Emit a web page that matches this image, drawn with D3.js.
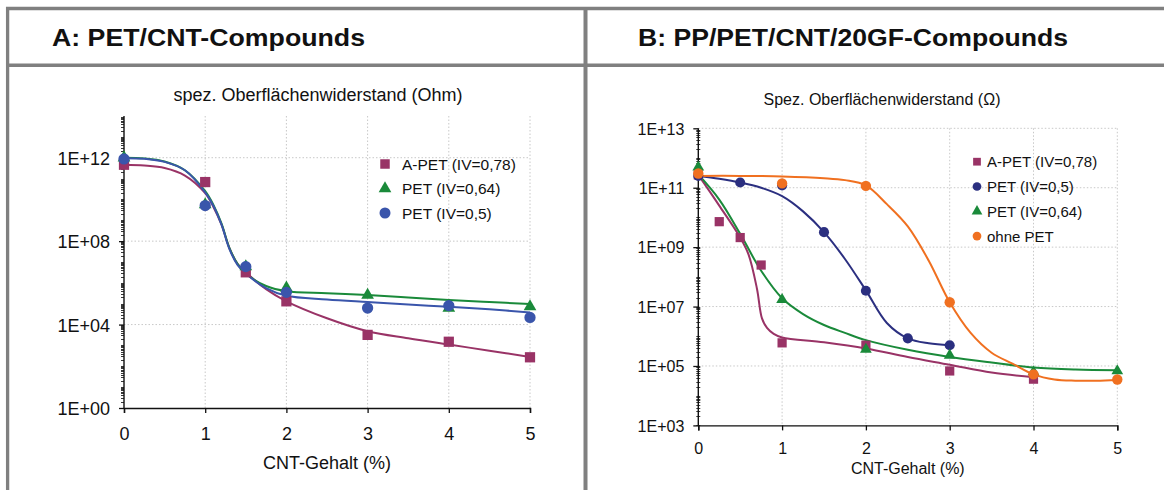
<!DOCTYPE html>
<html>
<head>
<meta charset="utf-8">
<script src="https://cdn.jsdelivr.net/npm/d3@7"></script>
<style>
  body { margin: 0; background: #fff; }
  svg { display: block; }
  text { font-family: "Liberation Sans", Arial, sans-serif; fill: #111; }
</style>
</head>
<body>
<svg id="chart" width="1164" height="490"></svg>
<script>
// ---- shared
var xTicks = [0, 1, 2, 3, 4, 5];

// ---- panel A: PET/CNT-Compounds
var aYTicks = [1, 1e4, 1e8, 1e12];
var aYLabels = ["1E+00", "1E+04", "1E+08", "1E+12"];
var aX = [0, 1, 1.5, 2, 3, 4, 5];
var aApet = [4.6e11, 6.8e10, 3.2e6, 1.3e5, 3.2e3, 1.5e3, 2.7e2];
var aPet064 = [1.0e12, 5.6e9, 6.0e6, 5.8e5, 2.6e5, 6.2e4, 7.2e4];
var aPet05 = [8.7e11, 5.1e9, 6.0e6, 3.5e5, 6.2e4, 8.1e4, 2.2e4];
// trend lines
var aFitX = [0, 0.25, 0.5, 0.75, 1, 1.1, 1.2, 1.3, 1.4, 1.5, 1.75, 2, 2.5, 3, 3.5, 4, 4.5, 5];
var aFitApet = [4.6e11, 4.2e11, 3.2e11, 1.4e11, 2.0e10, 4.5e9, 6.3e8, 4.5e7, 7.9e6, 3.2e6, 5.0e5, 1.3e5, 2.0e4, 4.8e3, 2.2e3, 1.1e3, 5.6e2, 2.8e2];
var aFitPet064 = [1.0e12, 9.3e11, 6.6e11, 2.5e11, 2.5e10, 5.6e9, 7.1e8, 4.5e7, 7.9e6, 2.8e6, 7.1e5, 4.0e5, 3.2e5, 2.6e5, 2.0e5, 1.5e5, 1.2e5, 9.8e4];
var aFitPet05 = [9.5e11, 8.9e11, 6.3e11, 2.5e11, 2.2e10, 5.0e9, 6.3e8, 4.0e7, 7.1e6, 2.8e6, 5.6e5, 2.4e5, 1.6e5, 1.2e5, 9.1e4, 7.2e4, 5.4e4, 3.8e4];

// ---- panel B: PP/PET/CNT/20GF-Compounds
var bYTicks = [1e3, 1e5, 1e7, 1e9, 1e11, 1e13];
var bYLabels = ["1E+03", "1E+05", "1E+07", "1E+09", "1E+11", "1E+13"];
var bApetX = [0, 0.25, 0.5, 0.75, 1, 2, 3, 4];
var bApet = [2.7e11, 7.2e9, 2.1e9, 2.5e8, 6.0e5, 5.0e5, 6.8e4, 3.6e4];
var bPet05X = [0, 0.5, 1, 1.5, 2, 2.5, 3];
var bPet05 = [2.5e11, 1.5e11, 1.2e11, 3.2e9, 3.4e7, 8.5e5, 5.0e5];
var bPet064X = [0, 1, 2, 3, 4, 5];
var bPet064 = [4.9e11, 1.7e7, 3.6e5, 2.3e5, 6.3e4, 6.8e4];
var bOhneX = [0, 1, 2, 3, 4, 5];
var bOhne = [3.0e11, 1.4e11, 1.15e11, 1.4e7, 5.2e4, 3.5e4];
// trend lines
var bFitApetX = [0, 0.25, 0.5, 0.6, 0.7, 0.76, 0.82, 0.9, 1, 1.5, 2, 2.5, 3, 3.5, 4];
var bFitApet = [2.7e11, 2.5e10, 2.1e9, 5.6e8, 4.0e7, 4.0e6, 1.9e6, 1.2e6, 9.1e5, 6.3e5, 3.9e5, 2.0e5, 1.1e5, 6.0e4, 4.2e4];
var bFitPet05X = [0, 0.25, 0.5, 0.75, 1, 1.25, 1.5, 1.75, 2, 2.25, 2.5, 2.75, 3];
var bFitPet05 = [2.5e11, 2.0e11, 1.5e11, 1.0e11, 5.2e10, 1.6e10, 3.2e9, 4.0e8, 3.5e7, 2.8e6, 8.5e5, 5.8e5, 5.0e5];
var bFitPet064X = [0, 0.25, 0.5, 0.75, 1, 1.25, 1.5, 1.75, 2, 2.5, 3, 3.5, 4, 4.5, 5];
var bFitPet064 = [2.8e11, 4.0e10, 2.8e9, 1.6e8, 1.9e7, 5.6e6, 2.4e6, 1.3e6, 7.4e5, 3.5e5, 2.0e5, 1.3e5, 8.9e4, 7.6e4, 7.2e4];
var bFitOhneX = [0, 0.5, 1, 1.5, 1.75, 2, 2.25, 2.5, 2.75, 3, 3.25, 3.5, 3.75, 4, 4.25, 4.5, 4.75, 5];
var bFitOhne = [2.5e11, 2.5e11, 2.4e11, 2.1e11, 1.8e11, 1.2e11, 2.8e10, 5.0e9, 3.5e8, 1.4e7, 1.3e6, 2.8e5, 1.2e5, 5.2e4, 3.5e4, 3.2e4, 3.2e4, 3.4e4];

var svg = d3.select("#chart");

// frame
var frame = svg.append("g").attr("stroke", "#808080").attr("fill", "none");
frame.append("line").attr("x1", 6).attr("x2", 1164).attr("y1", 8.5).attr("y2", 8.5).attr("stroke-width", 3.5);
frame.append("line").attr("x1", 6).attr("x2", 1164).attr("y1", 65.3).attr("y2", 65.3).attr("stroke-width", 3.5);
frame.append("line").attr("x1", 7.6).attr("x2", 7.6).attr("y1", 7).attr("y2", 490).attr("stroke-width", 3.3);
frame.append("line").attr("x1", 585.5).attr("x2", 585.5).attr("y1", 7).attr("y2", 490).attr("stroke-width", 4);

svg.append("text").attr("x", 52).attr("y", 46).attr("font-size", 23).attr("font-weight", "bold")
  .attr("textLength", 313).attr("lengthAdjust", "spacingAndGlyphs").text("A: PET/CNT-Compounds");
svg.append("text").attr("x", 638).attr("y", 46).attr("font-size", 23).attr("font-weight", "bold")
  .attr("textLength", 430).attr("lengthAdjust", "spacingAndGlyphs").text("B: PP/PET/CNT/20GF-Compounds");

function pairs(xs, ys) { return xs.map(function(v, i) { return [v, ys[i]]; }); }

function drawPanel(p) {
  var g = svg.append("g");
  var x = d3.scaleLinear().domain([0, 5]).range([p.left, p.right]);
  var y = d3.scaleLog().domain(p.yDomain).range([p.bottom, p.top]);

  // grid
  g.selectAll(".vg").data(xTicks.slice(1)).enter().append("line")
    .attr("x1", function(d) { return x(d); }).attr("x2", function(d) { return x(d); })
    .attr("y1", p.top).attr("y2", p.bottom)
    .attr("stroke", "#c8c8c8").attr("stroke-width", 1).attr("stroke-dasharray", "1.5,2");
  g.selectAll(".hg").data(p.grid).enter().append("line")
    .attr("x1", p.left).attr("x2", p.right)
    .attr("y1", function(d) { return y(d); }).attr("y2", function(d) { return y(d); })
    .attr("stroke", "#c8c8c8").attr("stroke-width", 1).attr("stroke-dasharray", "1.5,2");

  g.append("text").attr("x", p.titleX).attr("y", p.titleY).attr("text-anchor", "middle")
    .attr("font-size", p.titleSize).text(p.title);

  // minor ticks on log axis
  var minor = [];
  var lo = Math.log10(p.yDomain[0]), hi = Math.log10(p.yDomain[1]);
  for (var e = lo; e < hi; e++) for (var k = 1; k < 10; k++) minor.push(k * Math.pow(10, e));
  g.selectAll(".mt").data(minor).enter().append("line")
    .attr("x1", p.left + p.minorIn).attr("x2", p.left - p.minorOut)
    .attr("y1", function(d) { return Math.round(y(d)) + 0.5; })
    .attr("y2", function(d) { return Math.round(y(d)) + 0.5; })
    .attr("stroke", "#222").attr("stroke-width", 0.9);

  var yAxis = g.append("g").attr("transform", "translate(" + p.left + ",0)")
    .call(d3.axisLeft(y).tickValues(p.yTicks).tickSizeOuter(0).tickSize(5).tickPadding(9)
      .tickFormat(function(d, i) { return p.yLabels[i]; }));
  yAxis.select(".domain").attr("stroke", "#111").attr("stroke-width", 1.4)
    .attr("d", "M0," + p.bottom + "V" + p.top);
  yAxis.selectAll(".tick line").attr("stroke", "#111").attr("stroke-width", 1.3);
  yAxis.selectAll("text").attr("font-size", p.tickSize).attr("dy", "0.36em")
    .style("font-family", "'Liberation Sans', Arial, sans-serif").attr("fill", "#111");

  var xAxis = g.append("g").attr("transform", "translate(0," + p.bottom + ")")
    .call(d3.axisBottom(x).tickValues(xTicks).tickSizeOuter(0).tickSize(5).tickPadding(p.xPad)
      .tickFormat(d3.format("d")));
  xAxis.select(".domain").attr("stroke", "#111").attr("stroke-width", 1.4);
  xAxis.selectAll(".tick line").attr("stroke", "#111").attr("stroke-width", 1.3);
  xAxis.selectAll("text").attr("font-size", p.tickSize)
    .style("font-family", "'Liberation Sans', Arial, sans-serif").attr("fill", "#111");

  g.append("text").attr("x", (p.left + p.right) / 2).attr("y", p.xTitleY).attr("text-anchor", "middle")
    .attr("font-size", p.xTitleSize).text("CNT-Gehalt (%)");

  var line = d3.line().x(function(d) { return x(d[0]); }).y(function(d) { return y(d[1]); })
    .curve(d3.curveCatmullRom.alpha(0.5));

  p.series.forEach(function(s) {
    g.append("path").datum(pairs(s.fitX, s.fit)).attr("d", line)
      .attr("fill", "none").attr("stroke", s.color).attr("stroke-width", 2);
  });
  p.series.forEach(function(s) {
    g.selectAll(null).data(pairs(s.x, s.y)).enter().append("path")
      .attr("transform", function(d) { return "translate(" + x(d[0]) + "," + y(d[1]) + ")"; })
      .attr("d", d3.symbol().type(s.symbol).size(s.size)).attr("fill", s.color);
  });

  // legend
  var leg = g.append("g");
  p.legendOrder.forEach(function(s, i) {
    var ly = p.legY + i * p.legStep;
    leg.append("path").attr("transform", "translate(" + p.legX + "," + ly + ")")
      .attr("d", d3.symbol().type(s.symbol).size(s.legSize)).attr("fill", s.color);
    leg.append("text").attr("x", p.legX + p.legGap).attr("y", ly).attr("dy", "0.36em")
      .attr("font-size", p.legFont).text(s.name);
  });
}

var sqA = { name: "A-PET (IV=0,78)", x: aX, y: aApet, fitX: aFitX, fit: aFitApet, color: "#993366", symbol: d3.symbolSquare, size: 105, legSize: 90 };
var trA = { name: "PET (IV=0,64)", x: aX, y: aPet064, fitX: aFitX, fit: aFitPet064, color: "#1a8a3a", symbol: d3.symbolTriangle, size: 70, legSize: 70 };
var ciA = { name: "PET (IV=0,5)", x: aX, y: aPet05, fitX: aFitX, fit: aFitPet05, color: "#3a55ab", symbol: d3.symbolCircle, size: 100, legSize: 95 };

drawPanel({
  left: 124, right: 530, top: 116, bottom: 408,
  yDomain: [1, 1e14], yTicks: aYTicks, yLabels: aYLabels, grid: [1e4, 1e8, 1e12],
  title: "spez. Oberflächenwiderstand (Ohm)", titleX: 318, titleY: 101, titleSize: 18,
  tickSize: 18, xPad: 14, xTitleY: 469, xTitleSize: 18, minorIn: 0, minorOut: 3,
  series: [sqA, trA, ciA], legendOrder: [sqA, trA, ciA],
  legX: 385, legY: 164, legStep: 24.5, legGap: 17, legFont: 15.5
});

var sqB = { name: "A-PET (IV=0,78)", x: bApetX, y: bApet, fitX: bFitApetX, fit: bFitApet, color: "#993366", symbol: d3.symbolSquare, size: 85, legSize: 60 };
var ciB = { name: "PET (IV=0,5)", x: bPet05X, y: bPet05, fitX: bFitPet05X, fit: bFitPet05, color: "#2b2f80", symbol: d3.symbolCircle, size: 80, legSize: 60 };
var trB = { name: "PET (IV=0,64)", x: bPet064X, y: bPet064, fitX: bFitPet064X, fit: bFitPet064, color: "#1a8a3a", symbol: d3.symbolTriangle, size: 60, legSize: 50 };
var orB = { name: "ohne PET", x: bOhneX, y: bOhne, fitX: bFitOhneX, fit: bFitOhne, color: "#f07020", symbol: d3.symbolCircle, size: 85, legSize: 60 };

drawPanel({
  left: 698.3, right: 1117.3, top: 128.3, bottom: 425.4,
  yDomain: [1e3, 1e13], yTicks: bYTicks, yLabels: bYLabels, grid: [1e5, 1e7, 1e9, 1e11, 1e13],
  title: "Spez. Oberflächenwiderstand (Ω)", titleX: 882, titleY: 105, titleSize: 16,
  tickSize: 16, xPad: 12, xTitleY: 474, xTitleSize: 16, minorIn: 2, minorOut: 2,
  series: [sqB, ciB, trB, orB], legendOrder: [sqB, ciB, trB, orB],
  legX: 977, legY: 161.7, legStep: 24.8, legGap: 10, legFont: 15
});
</script>
</body>
</html>
